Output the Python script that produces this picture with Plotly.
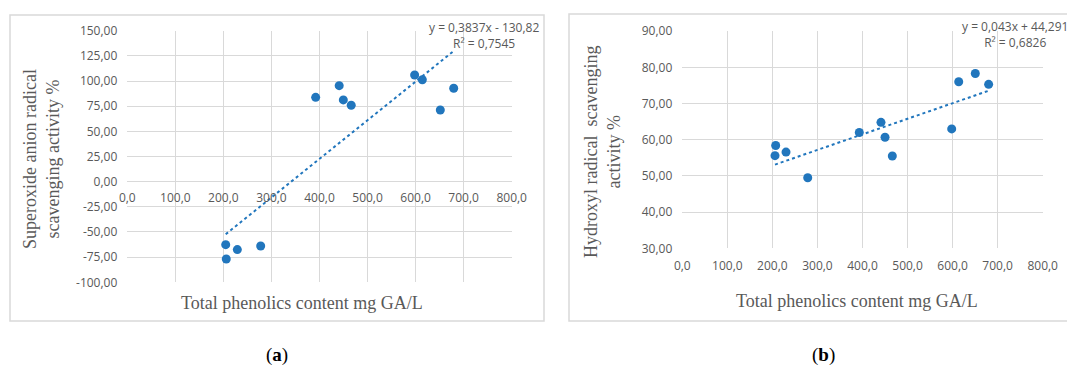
import plotly.graph_objects as go

# ---------------- data ----------------
# (a) superoxide anion radical scavenging
tpc_a = [204.8, 206.0, 229.0, 277.6, 392.0, 441.0, 449.6, 466.0, 598.0, 614.0, 651.4, 679.3]
sod_a = [-62.6, -76.8, -67.5, -63.9, 83.8, 95.4, 81.2, 75.9, 106.0, 101.3, 71.2, 92.8]
slope_a, intercept_a = 0.3837, -130.82
eq_a = "y = 0,3837x - 130,82"
r2_a = "R² = 0,7545"

# (b) hydroxyl radical scavenging
tpc_b = [207.3, 205.8, 230.2, 278.4, 392.9, 441.0, 450.0, 466.2, 598.0, 613.6, 650.4, 680.0]
oh_b = [58.4, 55.6, 56.6, 49.5, 62.0, 64.8, 60.7, 55.5, 63.0, 76.0, 78.3, 75.3]
slope_b, intercept_b = 0.043, 44.291
eq_b = "y = 0,043x + 44,291"
r2_b = "R² = 0,6826"

x_ticks = [0, 100, 200, 300, 400, 500, 600, 700, 800]
x_tick_labels = ["0,0", "100,0", "200,0", "300,0", "400,0", "500,0", "600,0", "700,0", "800,0"]
ya_ticks = [-100, -75, -50, -25, 0, 25, 50, 75, 100, 125, 150]
ya_tick_labels = ["-100,00", "-75,00", "-50,00", "-25,00", "0,00", "25,00", "50,00",
                  "75,00", "100,00", "125,00", "150,00"]
yb_ticks = [30, 40, 50, 60, 70, 80, 90]
yb_tick_labels = ["30,00", "40,00", "50,00", "60,00", "70,00", "80,00", "90,00"]

x_title = "Total phenolics content mg GA/L"
ya_title = "Superoxide anion radical<br>scavenging activity %"
yb_title = "Hydroxyl radical  scavenging<br>activity %"

# ---------------- layout helpers ----------------
W, H = 1067, 365
def px(x):
    return x / W
def py(y):
    return 1 - y / H

BLUE = "#2176bd"
GRID = "#d9d9d9"
TXT = "#595959"
TICKFONT = dict(family="Open Sans", size=12, color=TXT)
SERIF = "Liberation Serif"

fig = go.Figure()

# scatter (a)
fig.add_trace(go.Scatter(x=tpc_a, y=sod_a, mode="markers",
                         marker=dict(size=9, color=BLUE), xaxis="x", yaxis="y",
                         showlegend=False))
xa0, xa1 = min(tpc_a), max(tpc_a)
fig.add_trace(go.Scatter(x=[xa0, xa1], y=[slope_a * xa0 + intercept_a, slope_a * xa1 + intercept_a],
                         mode="lines", line=dict(color=BLUE, width=2, dash="dot"),
                         xaxis="x", yaxis="y", showlegend=False))

# scatter (b)
fig.add_trace(go.Scatter(x=tpc_b, y=oh_b, mode="markers",
                         marker=dict(size=9, color=BLUE), xaxis="x2", yaxis="y2",
                         showlegend=False))
xb0, xb1 = min(tpc_b), max(tpc_b)
fig.add_trace(go.Scatter(x=[xb0, xb1], y=[slope_b * xb0 + intercept_b, slope_b * xb1 + intercept_b],
                         mode="lines", line=dict(color=BLUE, width=2, dash="dot"),
                         xaxis="x2", yaxis="y2", showlegend=False))

ya_dom = [py(282.3), py(30.7)]
yb_dom = [py(248.4), py(31.1)]
zero_pos = ya_dom[0] + (0 - (-100)) / 250 * (ya_dom[1] - ya_dom[0])

common_axis = dict(showgrid=True, gridcolor=GRID, gridwidth=1, zeroline=False,
                   showline=False, ticks="", tickfont=TICKFONT, fixedrange=True,
                   automargin=False)

fig.update_layout(
    template="none",
    width=W, height=H, autosize=False,
    margin=dict(l=0, r=0, t=0, b=0, pad=0),
    paper_bgcolor="white", plot_bgcolor="white",
    showlegend=False,
    xaxis=dict(domain=[px(127.3), px(511.7)], range=[0, 800], tickvals=x_ticks,
               ticktext=x_tick_labels, anchor="free", position=zero_pos,
               ticklabelstandoff=7, **common_axis),
    yaxis=dict(domain=ya_dom, range=[-100, 150], tickvals=ya_ticks,
               ticktext=ya_tick_labels, anchor="x", ticklabelstandoff=9, **common_axis),
    xaxis2=dict(domain=[px(682.3), px(1042.7)], range=[0, 800], tickvals=x_ticks,
                ticktext=x_tick_labels, anchor="y2", ticklabelstandoff=9, **common_axis),
    yaxis2=dict(domain=yb_dom, range=[30, 90], tickvals=yb_ticks,
                ticktext=yb_tick_labels, anchor="x2", ticklabelstandoff=9, **common_axis),
)

# panel borders
fig.add_shape(type="rect", xref="paper", yref="paper", x0=px(10), x1=px(544), y0=py(321), y1=py(15),
              line=dict(color=GRID, width=1.5), layer="below")
fig.add_shape(type="rect", xref="paper", yref="paper", x0=px(569), x1=px(1075), y0=py(321), y1=py(14),
              line=dict(color=GRID, width=1.5), layer="below")

def ann(text, x, y, size, family, color=TXT, angle=0, **kw):
    fig.add_annotation(text=text, xref="paper", yref="paper", x=px(x), y=py(y),
                       xanchor="center", yanchor="middle", showarrow=False,
                       textangle=angle, font=dict(family=family, size=size, color=color), **kw)

# axis titles
ann(x_title, 302, 303, 18, SERIF)
ann(x_title, 857, 301, 18, SERIF)
ann(ya_title, 41, 159, 18, SERIF, angle=-90)
ann(yb_title, 602, 152, 18, SERIF, angle=-90)

# trendline labels
ann(eq_a + "<br>" + r2_a, 484, 35.5, 12, "Open Sans")
ann(eq_b + "<br>" + r2_b, 1015, 34.5, 12, "Open Sans")

# captions
ann("(<b>a</b>)", 277, 355, 19, SERIF, color="black")
ann("(<b>b</b>)", 823, 355, 19, SERIF, color="black")

fig.write_html("out.html", config={"displayModeBar": False},
               post_script="document.body.style.margin='0';document.body.style.overflow='hidden';")
